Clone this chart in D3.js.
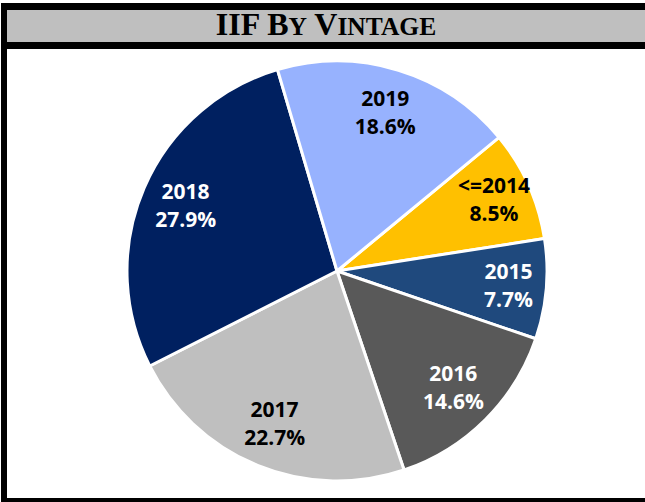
<!DOCTYPE html>
<html>
<head>
<meta charset="utf-8">
<script src="https://cdn.jsdelivr.net/npm/d3@7"></script>
<style>
  body { margin: 0; background: #fff; }
  svg { display: block; }
</style>
</head>
<body>
<svg width="645" height="502"></svg>
<script>
// data
var categories = ["<=2014", "2015", "2016", "2017", "2018", "2019"];
var shares = [8.5, 7.7, 14.6, 22.7, 27.9, 18.6];

// styles
var sliceColors = ["#FFC000", "#1F497D", "#595959", "#BFBFBF", "#002060", "#97B2FE"];
var labelColors = ["#000", "#fff", "#fff", "#000", "#fff", "#000"];

var svg = d3.select("svg"),
    width = +svg.attr("width"),
    height = +svg.attr("height");

// frame
svg.append("rect")
    .attr("x", 1).attr("y", 3)
    .attr("width", width).attr("height", height)
    .attr("fill", "#000");
svg.append("rect")
    .attr("x", 7).attr("y", 10)
    .attr("width", width).attr("height", 32)
    .attr("fill", "#BFBFBF");
svg.append("rect")
    .attr("x", 7).attr("y", 49)
    .attr("width", width).attr("height", 449)
    .attr("fill", "#fff");

// title with hand-made small caps
var title = svg.append("text")
    .attr("x", 326).attr("y", 35)
    .attr("text-anchor", "middle")
    .attr("font-family", "'Liberation Serif', 'Times New Roman', serif")
    .attr("font-weight", "bold")
    .attr("fill", "#000");
[["IIF B", 32], ["Y", 25.5], [" V", 32], ["INTAGE", 25.5]].forEach(function (p) {
    title.append("tspan").attr("font-size", p[1]).text(p[0]);
});

// pie
var cx = 337, cy = 271, r = 210;
var start = 50.5 * Math.PI / 180;

var pie = d3.pie()
    .sort(null)
    .value(function (d) { return d.value; })
    .startAngle(start)
    .endAngle(start + 2 * Math.PI);

var data = categories.map(function (c, i) {
    return { name: c, value: shares[i], i: i };
});
var arcs = pie(data);

var arc = d3.arc().innerRadius(0).outerRadius(r);

var g = svg.append("g").attr("transform", "translate(" + cx + "," + cy + ")");

g.selectAll("path")
    .data(arcs)
    .enter().append("path")
    .attr("d", arc)
    .attr("fill", function (d) { return sliceColors[d.data.i]; })
    .attr("stroke", "#fff")
    .attr("stroke-width", 3)
    .attr("stroke-linejoin", "round");

function labelPos(d) {
    var lr = d.data.value < 10 ? r * 0.82 : r * 0.785;
    return d3.arc().innerRadius(lr).outerRadius(lr).centroid(d);
}

var labels = g.selectAll("text.lbl")
    .data(arcs)
    .enter().append("text")
    .attr("class", "lbl")
    .attr("text-anchor", "middle")
    .attr("font-family", "'Open Sans', sans-serif")
    .attr("font-weight", "bold")
    .attr("font-size", 21)
    .attr("fill", function (d) { return labelColors[d.data.i]; })
    .attr("transform", function (d) {
        var p = labelPos(d);
        return "translate(" + p[0] + "," + p[1] + ")";
    });

labels.append("tspan")
    .attr("x", 0).attr("y", -7)
    .text(function (d) { return d.data.name; });
labels.append("tspan")
    .attr("x", 0).attr("y", 21)
    .text(function (d) { return d.data.value.toFixed(1) + "%"; });
</script>
</body>
</html>
